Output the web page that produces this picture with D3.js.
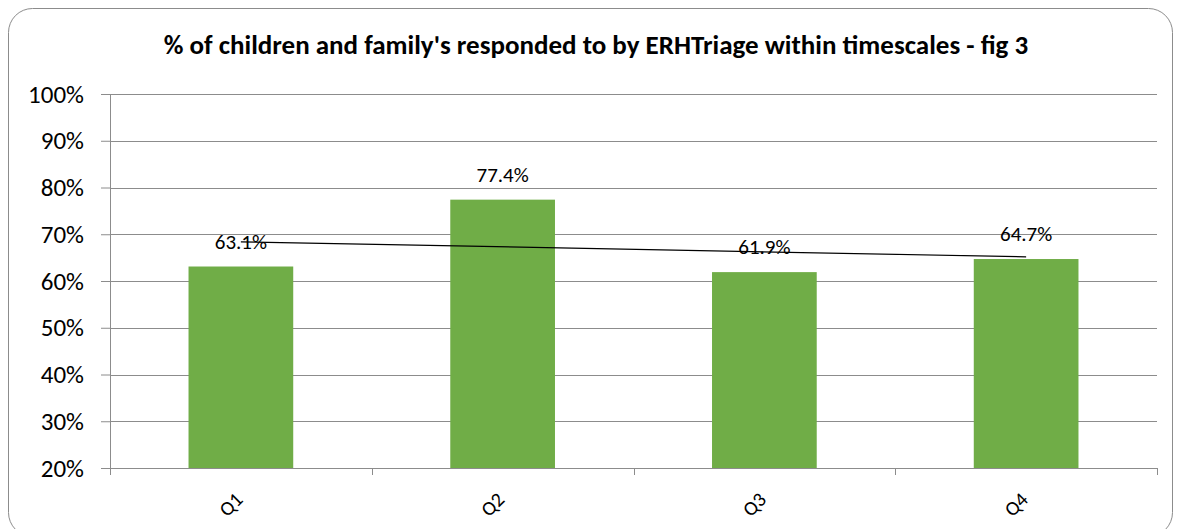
<!DOCTYPE html>
<html>
<head>
<meta charset="utf-8">
<script src="https://cdn.jsdelivr.net/npm/d3@7"></script>
<style>
  body { margin: 0; background: #fff; }
  text { font-family: Carlito, "Liberation Sans", Arial, sans-serif; }
</style>
</head>
<body>
<svg id="chart" width="1180" height="529"></svg>
<script>
// 데이터
const categories = ["Q1", "Q2", "Q3", "Q4"];
const values = [63.1, 77.4, 61.9, 64.7];
const yTicks = [20, 30, 40, 50, 60, 70, 80, 90, 100];
const chartTitle = "% of children and family's responded to by ERHTriage within timescales - fig 3";

const margin = { top: 94, right: 23, bottom: 61, left: 110 };
const width = 1180 - margin.left - margin.right;
const height = 529 - margin.top - margin.bottom;

const svg = d3.select("#chart");

// 바깥 테두리
svg.append("rect")
    .attr("x", 8.5).attr("y", 8.5)
    .attr("width", 1164).attr("height", 528)
    .attr("rx", 24).attr("ry", 24)
    .attr("fill", "#fff")
    .attr("stroke", "#8c8c8c")
    .attr("stroke-width", 1);

// 제목
svg.append("text")
    .attr("x", 596).attr("y", 54)
    .attr("text-anchor", "middle")
    .style("font-size", "27px")
    .style("font-weight", "bold")
    .text(chartTitle);

const g = svg.append("g")
    .attr("transform", `translate(${margin.left},${margin.top})`);

const x = d3.scaleBand()
    .domain(categories)
    .range([0, width])
    .paddingInner(0.6)
    .paddingOuter(0.3);

const y = d3.scaleLinear()
    .domain([20, 100])
    .range([height, 0]);

// 그리드
g.append("g")
    .selectAll("line")
    .data(yTicks)
    .enter()
    .append("line")
    .attr("x1", 0).attr("x2", width)
    .attr("y1", d => Math.round(y(d)) + 0.5)
    .attr("y2", d => Math.round(y(d)) + 0.5)
    .attr("stroke", "#8c8c8c");

// 막대
g.selectAll(".bar")
    .data(values)
    .enter()
    .append("rect")
    .attr("class", "bar")
    .attr("x", (d, i) => x(categories[i]))
    .attr("y", d => y(d))
    .attr("width", x.bandwidth())
    .attr("height", d => height - y(d))
    .attr("fill", "#70AD47");

// Y축
const yAxis = g.append("g")
    .call(d3.axisLeft(y).tickValues(yTicks).tickSize(9).tickFormat(d => d + "%"));
yAxis.select(".domain").attr("stroke", "#8c8c8c").attr("d", `M0.5,0V${height}`);
yAxis.selectAll(".tick line").attr("stroke", "#8c8c8c");
yAxis.selectAll(".tick text")
    .attr("x", -26)
    .attr("fill", "#000")
    .style("font-size", "25px")
    .style("font-family", "Carlito, 'Liberation Sans', Arial, sans-serif");

// X축 (카테고리 경계에 눈금)
const step = x.step();
const xAxis = g.append("g").attr("transform", `translate(0,${height})`);
xAxis.append("line")
    .attr("x1", 0).attr("x2", width)
    .attr("y1", 0.5).attr("y2", 0.5)
    .attr("stroke", "#8c8c8c");
xAxis.selectAll(".xtick")
    .data(d3.range(categories.length + 1))
    .enter()
    .append("line")
    .attr("x1", i => Math.round(i * step) + 0.5)
    .attr("x2", i => Math.round(i * step) + 0.5)
    .attr("y1", 0).attr("y2", 7)
    .attr("stroke", "#8c8c8c");
xAxis.selectAll(".xlabel")
    .data(categories)
    .enter()
    .append("text")
    .attr("transform", d => `translate(${x(d) + x.bandwidth() / 2 - 2},${28}) rotate(-45)`)
    .attr("text-anchor", "end")
    .attr("dy", "0.35em")
    .style("font-size", "20px")
    .text(d => d);

// 추세선 (선형 회귀)
const n = values.length;
const xs = values.map((d, i) => i + 1);
const mx = d3.mean(xs), my = d3.mean(values);
const slope = d3.sum(xs.map((xi, i) => (xi - mx) * (values[i] - my))) / d3.sum(xs.map(xi => (xi - mx) ** 2));
const intercept = my - slope * mx;
const cx = i => x(categories[i]) + x.bandwidth() / 2;
g.append("line")
    .attr("x1", cx(0)).attr("y1", y(intercept + slope * 1))
    .attr("x2", cx(n - 1)).attr("y2", y(intercept + slope * n))
    .attr("stroke", "#000")
    .attr("stroke-width", 1.2);

// 데이터 레이블
g.selectAll(".label")
    .data(values)
    .enter()
    .append("text")
    .attr("x", (d, i) => cx(i))
    .attr("y", d => y(d) - 18)
    .attr("text-anchor", "middle")
    .style("font-size", "21px")
    .text(d => d.toFixed(1) + "%");
</script>
</body>
</html>
